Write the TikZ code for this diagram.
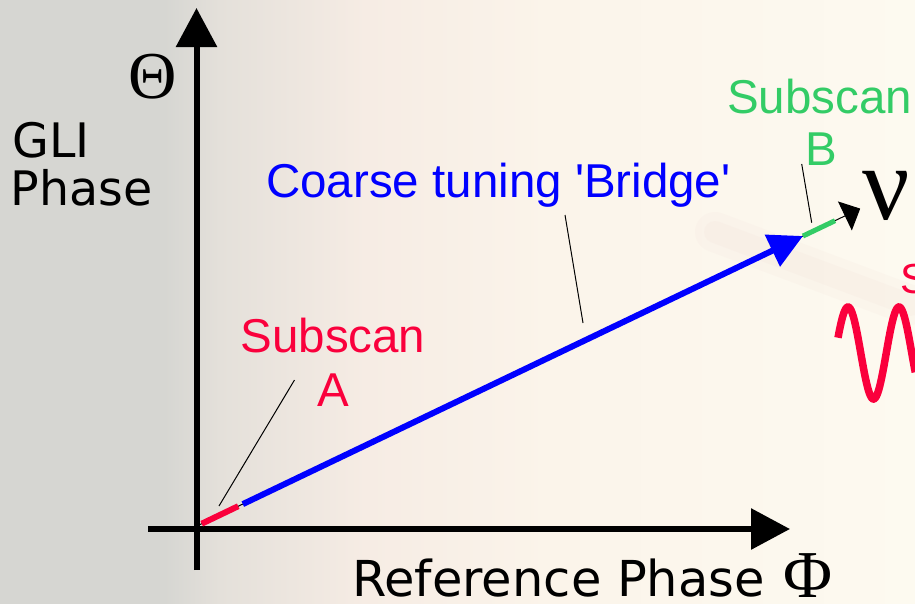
\documentclass[tikz,border=0pt]{standalone}
\usepackage{fontspec}
\setmainfont{Liberation Sans}
\newfontfamily\arialfont[Ligatures=TeXOff]{Liberation Sans}
\newfontfamily\tahomaish{DejaVu Sans}
\newfontfamily\greekserif{Liberation Serif}
\usetikzlibrary{arrows.meta}
\definecolor{bgA}{RGB}{214,214,210}
\definecolor{bgB}{RGB}{228,224,218}
\definecolor{bgC}{RGB}{246,236,228}
\definecolor{bgD}{RGB}{251,244,234}
\definecolor{bgE}{RGB}{253,250,240}
\definecolor{vecblue}{RGB}{0,0,255}
\definecolor{subred}{RGB}{250,0,60}
\definecolor{subgreen}{RGB}{51,204,102}
\definecolor{smear}{RGB}{235,195,195}
\pgfdeclarehorizontalshading{bgshade}{100bp}{color(0bp)=(bgA); color(34bp)=(bgA); color(37bp)=(bgB); color(45bp)=(bgC); color(55bp)=(bgD); color(75bp)=(bgE); color(100bp)=(bgE)}
\begin{document}
\begin{tikzpicture}[x=1pt,y=-1pt,
  axisline/.style={line width=6pt,-{Triangle[length=39pt,width=40pt]}},
  leader/.style={line width=1pt,black},
  arialtext/.style={font=\arialfont\fontsize{47.5}{54}\selectfont,inner sep=0pt},
  labeltext/.style={font=\tahomaish\fontsize{47.5}{54}\selectfont,inner sep=0pt,anchor=base west},
  greek/.style={font=\greekserif\fontsize{67}{67}\selectfont,inner sep=0pt}]
\useasboundingbox (0,0) rectangle (915,603);
\clip (0,0) rectangle (915,603);
\shade[shading=bgshade] (0,0) rectangle (915,603);
% faint smear behind arrow head
\coordinate (s1) at (715,232);
\coordinate (s2) at (910,305);
\draw[line width=40pt,smear,opacity=0.07,line cap=round] (s1) -- (s2);
\draw[line width=22pt,smear,opacity=0.08,line cap=round] (s1) -- (s2);
% axes
\coordinate (yb) at (196.5,570);
\coordinate (yt) at (196.5,8);
\coordinate (xl) at (148,529);
\coordinate (xr) at (790,529);
\draw[axisline] (yb) -- (yt);
\draw[axisline] (xl) -- (xr);
% vector
\coordinate (O) at (199,525);
\coordinate (rs) at (201.7,523.7);
\coordinate (re) at (238.2,506.2);
\coordinate (bs) at (242.8,504.1);
\coordinate (T) at (803,236);
\coordinate (G) at (835,220.7);
\coordinate (N) at (860.2,208.6);
\draw[line width=1pt,-{Triangle[length=17pt,width=32pt]}] (O) -- (N);
\draw[line width=6pt,subred] (rs) -- (re);
\draw[line width=6pt,vecblue,-{Triangle[length=34pt,width=34pt]}] (bs) -- (T);
\draw[line width=5pt,subgreen] (T) -- (G);
% leaders
\coordinate (la1) at (294.5,380);
\coordinate (la2) at (219,506);
\coordinate (lb1) at (565,215);
\coordinate (lb2) at (583,323);
\coordinate (lc1) at (801.7,164);
\coordinate (lc2) at (811.7,222.7);
\draw[leader] (la1) -- (la2);
\draw[leader] (lb1) -- (lb2);
\draw[leader] (lc1) -- (lc2);
% texts
\node[arialtext,text=vecblue,anchor=base west] (bridge) at (266,197) {Coarse tuning 'Bridge'};
\node[arialtext,text=subred,anchor=base] (subA1) at (333,352) {Subscan};
\node[arialtext,text=subred,anchor=base] (subA2) at (333,406) {A};
\node[arialtext,text=subgreen,anchor=base] (subB1) at (819.5,113) {Subscan};
\node[arialtext,text=subgreen,anchor=base] (subB2) at (821,165) {B};
\node[font=\arialfont\fontsize{42}{42}\selectfont,inner sep=0pt,text=subred,anchor=base west] (sigS) at (900,293) {S};
\node[labeltext] (gli) at (12.5,157) {GLI};
\node[labeltext] (phase) at (10.5,205) {Phase};
\node[labeltext,font=\tahomaish\fontsize{49.5}{54}\selectfont] (refph) at (352,596) {Reference Phase};
\node[greek] (theta) at (152.5,76.5) {Θ};
\node[greek] (phi) at (808,576) {Φ};
\node[greek,font=\greekserif\fontsize{105}{105}\selectfont] (nu) at (886.5,196) {ν};
% red wave
\begin{scope}[shift={(835.25,353)}]
\draw[subred,line width=7.5pt] plot[domain=2.75:80,samples=90,variable=\t] (\t,{-46*sin(\t*7.0588)});
\end{scope}
\end{tikzpicture}
\end{document}
